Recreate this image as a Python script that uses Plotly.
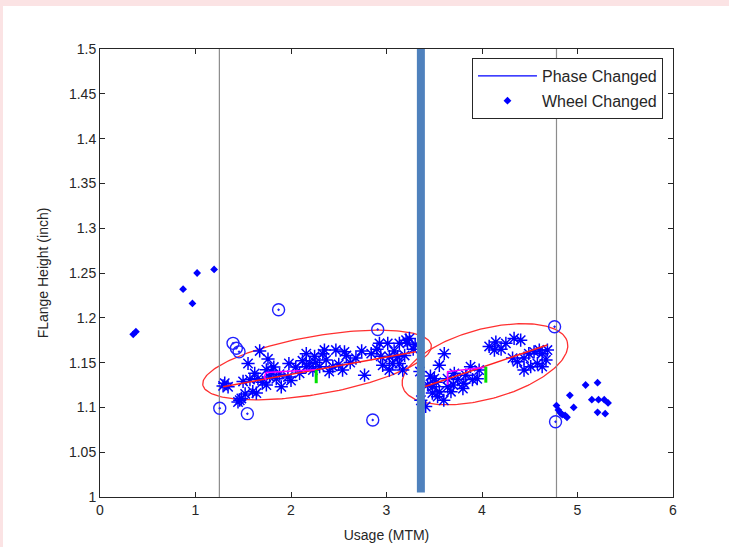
import numpy as np
import plotly.graph_objects as go

# ---------------- data ----------------
x_ticks = [0, 1, 2, 3, 4, 5, 6]
y_ticks = [1.0, 1.05, 1.1, 1.15, 1.2, 1.25, 1.3, 1.35, 1.4, 1.45, 1.5]
y_tick_labels = ["1", "1.05", "1.1", "1.15", "1.2", "1.25", "1.3", "1.35", "1.4", "1.45", "1.5"]

# phase 1 measurements (stars)
p1_x = [1.289, 1.306, 1.341, 1.445, 1.463, 1.48, 1.498, 1.52, 1.55, 1.57, 1.60, 1.62, 1.637, 1.654,
        1.672, 1.70, 1.742, 1.742, 1.759, 1.776, 1.793, 1.82, 1.846, 1.88, 1.898, 1.968, 1.978, 2.0,
        2.05, 2.09, 2.12, 2.16, 2.16, 2.194, 2.229, 2.247, 2.26, 2.30, 2.333, 2.35, 2.368, 2.40,
        2.438, 2.47, 2.5, 2.54, 2.56, 2.58, 2.62, 2.68, 2.74, 2.77, 2.84, 2.9, 2.926, 2.94, 2.96,
        3.013, 3.03, 3.03, 3.065, 3.08, 3.117, 3.135, 3.135, 3.17, 3.19, 3.205, 3.22, 3.24, 3.28,
        3.30, 3.35]
p1_y = [1.124, 1.127, 1.123, 1.106, 1.108, 1.110, 1.129, 1.115, 1.149, 1.131, 1.1175, 1.138, 1.116, 1.132,
        1.163, 1.128, 1.142, 1.125, 1.154, 1.134, 1.140, 1.145, 1.132, 1.137, 1.123, 1.134, 1.149, 1.130,
        1.145, 1.138, 1.152, 1.160, 1.1455, 1.149, 1.1417, 1.157, 1.150, 1.1455, 1.160, 1.164, 1.153, 1.140,
        1.1455, 1.164, 1.148, 1.1417, 1.162, 1.158, 1.150, 1.155, 1.163, 1.136, 1.160, 1.165, 1.1715, 1.157, 1.147,
        1.1715, 1.1566, 1.1417, 1.149, 1.163, 1.1566, 1.1715, 1.149, 1.1417, 1.158, 1.175, 1.172, 1.177, 1.165,
        1.170, 1.140]

# phase 2 measurements (stars)
p2_x = [3.36, 3.41, 3.43, 3.46, 3.48, 3.483, 3.50, 3.52, 3.535, 3.553, 3.553, 3.60, 3.605, 3.64, 3.64,
        3.675, 3.70, 3.71, 3.745, 3.80, 3.81, 3.83, 3.88, 3.90, 3.95, 3.97, 4.075, 4.13, 4.145, 4.2,
        4.25, 4.32, 4.336, 4.37, 4.405, 4.44, 4.44, 4.49, 4.51, 4.545, 4.58, 4.60, 4.63, 4.63, 4.67, 4.685]
p2_y = [1.108, 1.101, 1.125, 1.135, 1.116, 1.123, 1.132, 1.128, 1.112, 1.147, 1.1175, 1.108, 1.160, 1.123, 1.132,
        1.1175, 1.125, 1.138, 1.131, 1.121, 1.127, 1.136, 1.1455, 1.131, 1.132, 1.1417, 1.168, 1.164, 1.173, 1.165,
        1.1715, 1.155, 1.177, 1.151, 1.175, 1.155, 1.1417, 1.160, 1.1455, 1.162, 1.149, 1.164, 1.160, 1.1455, 1.153, 1.164]

# outliers (circled)
out_x = [1.254, 1.543, 1.393, 1.428, 1.456, 1.87, 2.856, 2.908, 4.76, 4.77]
out_y = [1.099, 1.093, 1.1715, 1.166, 1.162, 1.209, 1.086, 1.187, 1.190, 1.084]

# wheel changed (diamonds)
wheel_x = [0.348, 0.376, 0.870, 0.968, 1.017, 1.195, 4.78, 4.80, 4.82, 4.84, 4.87, 4.89, 4.92, 4.96,
           5.085, 5.21, 5.15, 5.22, 5.28, 5.32, 5.21, 5.29]
wheel_y = [1.1816, 1.1845, 1.232, 1.216, 1.250, 1.254, 1.102, 1.097, 1.094, 1.092, 1.091, 1.089, 1.1135, 1.100,
           1.125, 1.1276, 1.1086, 1.1086, 1.1086, 1.105, 1.0945, 1.093]

# phase boundaries
gray_lines_x = [1.25, 4.78]
phase_bar_x = 3.36
phase_bar_y = [1.005, 1.5]

# regression lines
fit1_x = [1.289, 3.308]
fit1_y = [1.1231, 1.1622]
fit2_x = [3.396, 4.685]
fit2_y = [1.1231, 1.1696]

# magenta segments and green markers
mag1_x = [1.74, 1.72, 1.74, 2.26]
mag1_y = [1.1300, 1.1345, 1.1390, 1.1420]
mag2_x = [3.64, 3.64, 3.64, 4.04]
mag2_y = [1.1250, 1.1306, 1.1400, 1.1447]
green1_x = [2.264, 2.264]
green1_y = [1.127, 1.1417]
green2_x = [4.04, 4.04]
green2_y = [1.1276, 1.1454]

# ellipses: center, semi-major vector, semi-minor vector (data units)
ell1_center = (2.273, 1.1473)
ell1_major = (1.196, 0.0223)
ell1_minor = (0.052, -0.0319)
ell2_center = (4.031, 1.1482)
ell2_major = (0.862, 0.0251)
ell2_minor = (0.096, -0.0377)

# ---------------- figure ----------------
FONT = "Liberation Sans, Arial, sans-serif"
fig = go.Figure()

t = np.linspace(0, 2 * np.pi, 200)
for c, a, b in [(ell1_center, ell1_major, ell1_minor), (ell2_center, ell2_major, ell2_minor)]:
    ex = c[0] + a[0] * np.cos(t) + b[0] * np.sin(t)
    ey = c[1] + a[1] * np.cos(t) + b[1] * np.sin(t)
    fig.add_trace(go.Scatter(x=ex, y=ey, mode="lines", line=dict(color="#ff3030", width=1.3),
                             showlegend=False, hoverinfo="skip"))

for gx in gray_lines_x:
    fig.add_trace(go.Scatter(x=[gx, gx], y=[1.0, 1.5], mode="lines",
                             line=dict(color="#8c8c8c", width=1.2), showlegend=False))

star_marker = dict(symbol="asterisk-open", size=11, color="#0000ff",
                   line=dict(color="#0000ff", width=1.5))
fig.add_trace(go.Scatter(x=p1_x, y=p1_y, mode="markers", marker=star_marker, showlegend=False))
fig.add_trace(go.Scatter(x=p2_x, y=p2_y, mode="markers", marker=star_marker, showlegend=False))

for fx, fy in [(fit1_x, fit1_y), (fit2_x, fit2_y)]:
    fig.add_trace(go.Scatter(x=fx, y=fy, mode="lines", line=dict(color="#ff2020", width=1.5),
                             showlegend=False))
for mx, my in [(mag1_x, mag1_y), (mag2_x, mag2_y)]:
    fig.add_trace(go.Scatter(x=mx, y=my, mode="lines", line=dict(color="#ff00ff", width=1.5),
                             showlegend=False))
for gx, gy in [(green1_x, green1_y), (green2_x, green2_y)]:
    fig.add_trace(go.Scatter(x=gx, y=gy, mode="lines", line=dict(color="#00e000", width=3),
                             showlegend=False))

fig.add_trace(go.Scatter(x=out_x, y=out_y, mode="markers",
                         marker=dict(symbol="circle-open-dot", size=12, color="#2020ff",
                                     line=dict(color="#2020ff", width=1.4)),
                         showlegend=False))

fig.add_trace(go.Scatter(x=[phase_bar_x, phase_bar_x], y=phase_bar_y, mode="lines",
                         line=dict(color="#4f81bd", width=8), showlegend=False))

fig.add_trace(go.Scatter(x=wheel_x, y=wheel_y, mode="markers",
                         marker=dict(symbol="diamond", size=6, color="#0000ff"),
                         showlegend=False))

# legend entries
fig.add_trace(go.Scatter(x=[None], y=[None], mode="lines", name="Phase Changed", legendgroup="a",
                         line=dict(color="#0000ff", width=1.2)))
fig.add_trace(go.Scatter(x=[None], y=[None], mode="markers", name="Wheel Changed", legendgroup="b",
                         marker=dict(symbol="diamond", size=6, color="#0000ff")))

axis_common = dict(showgrid=False, zeroline=False, showline=True, linecolor="#262626", linewidth=1,
                   mirror="ticks", ticks="inside", ticklen=5, tickcolor="#262626", automargin=False,
                   tickfont=dict(family=FONT, size=14, color="#262626"))

# figure placed at (3, 6) in the page; pink page background shows above/left of it
fig.update_layout(
    width=726, height=541, autosize=False,
    margin=dict(l=97, r=56, t=43, b=50),
    paper_bgcolor="white", plot_bgcolor="white",
    font=dict(family=FONT, size=14, color="#262626"),
    xaxis=dict(range=[0, 6], tickvals=x_ticks, title=dict(text="Usage (MTM)", standoff=13,
               font=dict(family=FONT, size=14)), **axis_common),
    yaxis=dict(range=[1, 1.5], tickvals=y_ticks, ticktext=y_tick_labels,
               title=dict(text="FLange Height (inch)", standoff=17, font=dict(family=FONT, size=14)),
               **axis_common),
    legend=dict(x=0.9825, y=0.98, xanchor="right", yanchor="top", bgcolor="white",
                bordercolor="#262626", borderwidth=1, font=dict(family=FONT, size=16),
                itemwidth=59, tracegroupgap=1),
    showlegend=True,
)

fig.write_html("out.html", config={"displayModeBar": False, "responsive": False},
               post_script="document.body.style.margin='6px 0 0 3px';document.body.style.background='#fbe3e4';")
